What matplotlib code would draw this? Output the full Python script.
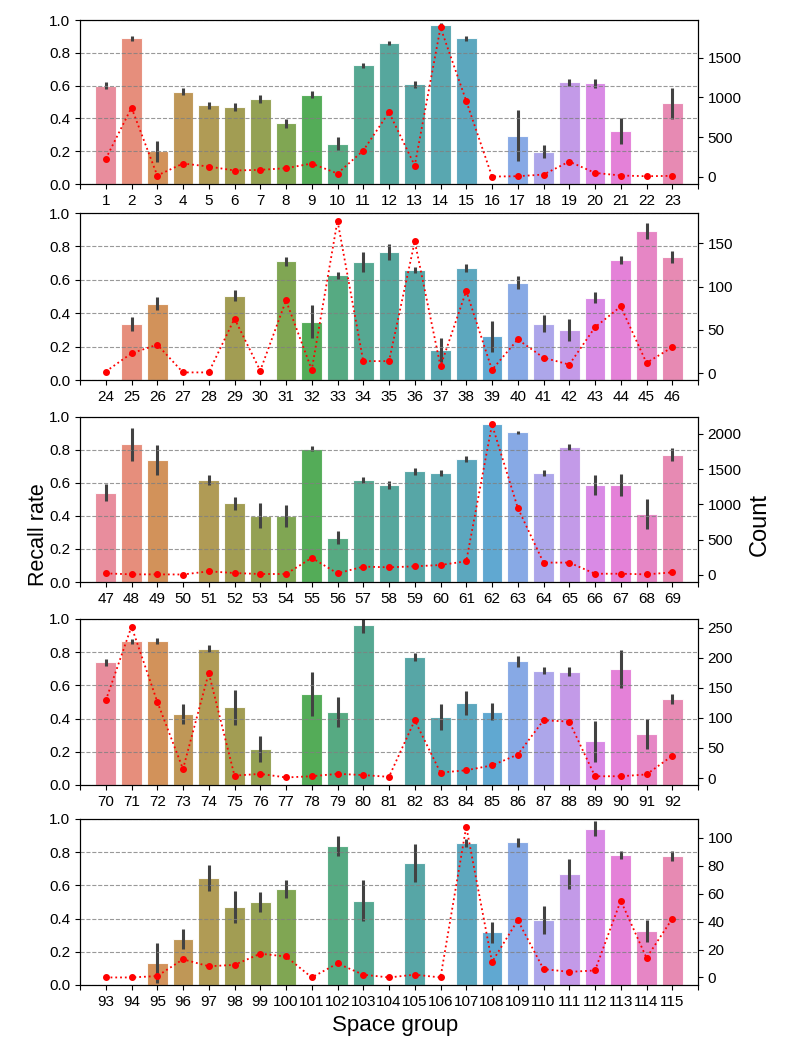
import matplotlib
matplotlib.use("Agg")
import matplotlib.pyplot as plt
from matplotlib.ticker import MultipleLocator
import numpy as np
import seaborn as sns

plt.rcParams['font.family'] = ['Liberation Sans', 'DejaVu Sans']

nan = np.nan

# space groups shown in each row
groups_1 = list(range(1, 24))
groups_2 = list(range(24, 47))
groups_3 = list(range(47, 70))
groups_4 = list(range(70, 93))
groups_5 = list(range(93, 116))

# recall rate (bar height), nan = no bar
recall_1 = [0.60, 0.888, 0.20, 0.562, 0.479, 0.47, 0.519, 0.371, 0.544, 0.246, 0.723, 0.861,
            0.609, 0.971, 0.888, nan, 0.295, 0.198, 0.619, 0.613, 0.324, nan, 0.491]
recall_2 = [nan, 0.336, 0.458, nan, nan, 0.504, nan, 0.71, 0.35, 0.626, 0.708, 0.766,
            0.656, 0.178, 0.67, 0.262, 0.582, 0.338, 0.30, 0.494, 0.718, 0.892, 0.736]
recall_3 = [0.542, 0.834, 0.740, nan, 0.619, 0.477, 0.402, 0.40, 0.807, 0.268, 0.617, 0.588,
            0.671, 0.661, 0.746, 0.959, 0.907, 0.659, 0.819, 0.590, 0.590, 0.412, 0.771]
recall_4 = [0.739, 0.865, 0.867, 0.43, 0.821, 0.468, 0.217, nan, 0.55, 0.44, 0.962, nan,
            0.773, 0.41, 0.494, 0.442, 0.745, 0.689, 0.683, 0.263, 0.701, 0.307, 0.52]
recall_5 = [nan, nan, 0.133, 0.277, 0.645, 0.47, 0.50, 0.578, nan, 0.835, 0.508, nan,
            0.735, nan, 0.855, 0.317, 0.859, 0.392, 0.671, 0.942, 0.783, 0.325, 0.779]

# half width of the error bars
err_1 = [0.02, 0.014, 0.064, 0.022, 0.024, 0.026, 0.026, 0.028, 0.021, 0.038, 0.016, 0.012,
         0.022, 0.01, 0.015, nan, 0.154, 0.042, 0.021, 0.03, 0.08, nan, 0.093]
err_2 = [nan, 0.04, 0.04, nan, nan, 0.032, nan, 0.026, 0.10, 0.022, 0.06, 0.05,
         0.018, 0.072, 0.023, 0.093, 0.039, 0.05, 0.065, 0.032, 0.023, 0.049, 0.036]
err_3 = [0.05, 0.10, 0.092, nan, 0.032, 0.039, 0.077, 0.069, 0.015, 0.04, 0.02, 0.024,
         0.02, 0.02, 0.018, 0.01, 0.01, 0.018, 0.02, 0.061, 0.067, 0.091, 0.04]
err_4 = [0.02, 0.016, 0.02, 0.06, 0.02, 0.106, 0.076, nan, 0.133, 0.088, 0.048, nan,
         0.023, 0.08, 0.074, 0.05, 0.033, 0.022, 0.025, 0.124, 0.114, 0.092, 0.03]
err_5 = [nan, nan, 0.12, 0.06, 0.077, 0.098, 0.058, 0.054, nan, 0.06, 0.124, nan,
         0.113, nan, 0.022, 0.061, 0.029, 0.084, 0.09, 0.046, 0.026, 0.064, 0.03]

# number of structures per space group (red dotted line)
count_1 = [226, 871, 17, 168, 130, 80, 88, 109, 168, 42, 331, 813,
           142, 1881, 955, 4, 8, 29, 193, 50, 17, 8, 13]
count_2 = [2, 23, 33, 1, 1, 63, 3, 84, 4, 176, 14, 14,
           152, 8, 95, 4, 39, 18, 10, 53, 77, 12, 30]
count_3 = [19, 5, 5, 3, 48, 24, 10, 10, 239, 19, 115, 105,
           119, 138, 191, 2134, 950, 172, 172, 14, 14, 5, 33]
count_4 = [129, 252, 127, 15, 175, 4, 7, 1, 3, 7, 5, 2,
           96, 9, 13, 21, 39, 96, 94, 3, 3, 6, 37]
count_5 = [0, 0, 1, 13, 8, 9, 17, 15, 0, 10, 2, 0,
           2, 0, 108, 11, 41, 6, 4, 5, 55, 14, 42]

rows = [
    (groups_1, recall_1, err_1, count_1),
    (groups_2, recall_2, err_2, count_2),
    (groups_3, recall_3, err_3, count_3),
    (groups_4, recall_4, err_4, count_4),
    (groups_5, recall_5, err_5, count_5),
]
count_step = [500, 50, 500, 50, 20]

W, H = 789, 1054
fig = plt.figure(figsize=(W / 100, H / 100), dpi=100)

# pixel extents (top, bottom) of each panel
panel_px = [(20, 184), (213, 380), (417, 582), (619, 785), (819, 985)]
left_px, right_px = 80, 698

palette = [sns.desaturate(c, 0.75) for c in sns.color_palette("husl", 23)]

for (groups, recall, err, count), (top, bot), step in zip(rows, panel_px, count_step):
    ax = fig.add_axes([left_px / W, 1 - bot / H, (right_px - left_px) / W, (bot - top) / H])
    x = np.arange(len(groups))
    ax.bar(x, recall, width=0.8, color=palette, edgecolor="white", linewidth=0.8, alpha=0.9)
    ax.errorbar(x, recall, yerr=err, fmt="none", ecolor="0.26", elinewidth=2.2, capsize=0)
    ax.set_ylim(0, 1)
    ax.set_yticks(np.arange(0, 1.01, 0.2))
    ax.set_xlim(-1, len(groups))
    ax.set_xticks(np.arange(-1, len(groups) + 1))
    ax.set_xticklabels([""] + [str(g) for g in groups] + [""])
    ax.tick_params(labelsize=11)
    ax.set_axisbelow(False)
    ax.yaxis.grid(True, linestyle="--", color="gray", linewidth=0.8, alpha=0.8)

    ax2 = ax.twinx()
    ax2.plot(x, count, color="red", linestyle=":", marker="o", markersize=4, linewidth=1.3)
    ax2.yaxis.set_major_locator(MultipleLocator(step))
    ax2.tick_params(labelsize=11)

fig.text(38 / W, 1 - 535 / H, "Recall rate", rotation=90, fontsize=15.5, ha="center", va="center")
fig.text(760 / W, 1 - 525 / H, "Count", rotation=90, fontsize=17, ha="center", va="center")
fig.text(395 / W, 1 - 1025 / H, "Space group", fontsize=16, ha="center", va="center")

fig.savefig("out.png", dpi=100)
